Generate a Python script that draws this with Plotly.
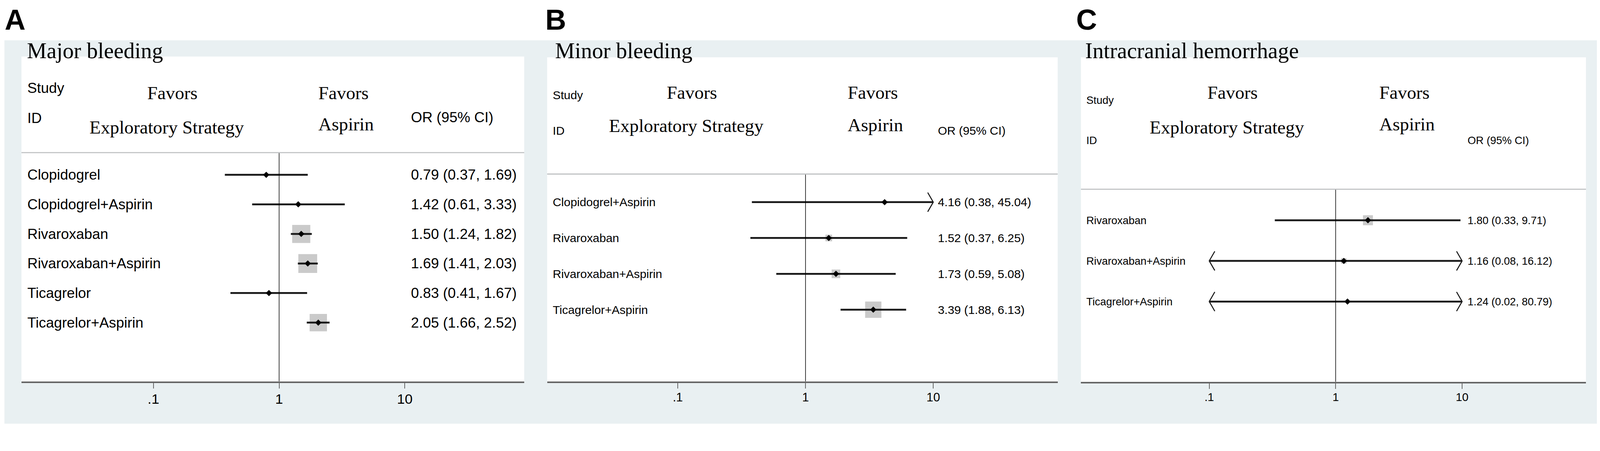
import numpy as np
import plotly.graph_objects as go

# The capture shows a 4096 css px wide viewport stretched to 4328 px, so all
# positions below are given in reference pixels and mapped through S.
REF_W, REF_H = 4328, 1155
S = 4096 / REF_W
BODY = 8                                  # default page margin of the html body
W, H = 4096 - 2 * BODY, round(REF_H * S) - 2 * BODY

# --- data ---
studies_a = ["Clopidogrel", "Clopidogrel+Aspirin", "Rivaroxaban",
             "Rivaroxaban+Aspirin", "Ticagrelor", "Ticagrelor+Aspirin"]
or_a = [0.79, 1.42, 1.50, 1.69, 0.83, 2.05]
lo_a = [0.37, 0.61, 1.24, 1.41, 0.41, 1.66]
hi_a = [1.69, 3.33, 1.82, 2.03, 1.67, 2.52]
wt_a = [0.15, 0.15, 0.96, 1.00, 0.15, 0.92]   # relative box size (study weight)

studies_b = ["Clopidogrel+Aspirin", "Rivaroxaban", "Rivaroxaban+Aspirin", "Ticagrelor+Aspirin"]
or_b = [4.16, 1.52, 1.73, 3.39]
lo_b = [0.38, 0.37, 0.59, 1.88]
hi_b = [45.04, 6.25, 5.08, 6.13]
wt_b = [0.14, 0.41, 0.53, 1.00]

studies_c = ["Rivaroxaban", "Rivaroxaban+Aspirin", "Ticagrelor+Aspirin"]
or_c = [1.80, 1.16, 1.24]
lo_c = [0.33, 0.08, 0.02]
hi_c = [9.71, 16.12, 80.79]
wt_c = [1.00, 0.55, 0.22]

tick_vals = [0.1, 1, 10]
tick_text = [".1", "1", "10"]

SANS = "Liberation Sans, Arial, sans-serif"
SERIF = "Liberation Serif, Times New Roman, serif"
GRAY_BG = "#e9f0f2"
INK = "#1a1a1a"

# --- panel layout (pixel positions in the reference image) ---
panels = [
    dict(letter="A", letter_x=12, title="Major bleeding", title_x=72,
         studies=studies_a, est=or_a, lo=lo_a, hi=hi_a, wt=wt_a,
         white=(58, 153, 1418, 1032), one_px=755, dec_px=340,
         row0=473, step=80, sep=413, box_max=51,
         sans=39, serif=50, tick=38,
         col_id=73, col_or=1111, fav_l=466, expl_l=451, fav_r=860,
         b_study=252, b_id=333, b_or=331, b_fav=269, b_expl=361, b_asp=353),
    dict(letter="B", letter_x=1474, title="Minor bleeding", title_x=1500,
         studies=studies_b, est=or_b, lo=lo_b, hi=hi_b, wt=wt_b,
         white=(1480, 155, 2861, 1032), one_px=2179, dec_px=345.5,
         row0=547, step=97, sep=471, box_max=44,
         sans=32, serif=50, tick=33,
         col_id=1494, col_or=2536, fav_l=1872, expl_l=1857, fav_r=2292,
         b_study=268, b_id=364, b_or=364, b_fav=267, b_expl=357, b_asp=355),
    dict(letter="C", letter_x=2910, title="Intracranial hemorrhage", title_x=2934,
         studies=studies_c, est=or_c, lo=lo_c, hi=hi_c, wt=wt_c,
         white=(2924, 155, 4290, 1033), one_px=3613, dec_px=342,
         row0=596, step=110, sep=512, box_max=27,
         sans=29, serif=50, tick=31,
         col_id=2937, col_or=3969, fav_l=3334, expl_l=3319, fav_r=3730,
         b_study=281, b_id=390, b_or=390, b_fav=267, b_expl=361, b_asp=353),
]


def px(x):
    return (x * S - BODY) / W


def py(y):
    return 1 - (y * S - BODY) / H


annotations = []
shapes = []


def label(x, baseline, text, size, family, xanchor="left"):
    annotations.append(dict(
        x=px(x), y=py(baseline - 0.34 * size), xref="paper", yref="paper",
        text=text, showarrow=False, xanchor=xanchor, yanchor="middle", borderpad=0,
        font=dict(family=family, size=size * S, color="black")))


# grey graph region behind all three panels
shapes.append(dict(type="rect", xref="paper", yref="paper", layer="below",
                   x0=px(12), x1=px(4322), y0=py(1148), y1=py(109),
                   fillcolor=GRAY_BG, line=dict(width=0)))

fig = go.Figure()
layout_axes = {}
clip_lo, clip_hi = tick_vals[0], tick_vals[-1]

for k, p in enumerate(panels):
    n = k + 1
    xa = "x" if n == 1 else f"x{n}"
    ya = "y" if n == 1 else f"y{n}"
    wl, wt_, wr, wb = p["white"]
    dec = p["dec_px"]
    step = p["step"]
    ymin = -(p["row0"] - wt_) / step
    ymax = (wb - p["row0"]) / step
    sep_row = (p["sep"] - p["row0"]) / step

    # white plot region
    shapes.append(dict(type="rect", xref="paper", yref="paper", layer="below",
                       x0=px(wl), x1=px(wr), y0=py(wb), y1=py(wt_),
                       fillcolor="white", line=dict(width=0)))
    # header separator
    shapes.append(dict(type="line", xref="paper", yref="paper",
                       x0=px(wl), x1=px(wr), y0=py(p["sep"]), y1=py(p["sep"]),
                       line=dict(color="#bfc1c3", width=3 * S)))

    rows = np.arange(len(p["studies"]))
    est = np.array(p["est"])
    lo = np.array(p["lo"])
    hi = np.array(p["hi"])

    # weight boxes
    fig.add_trace(go.Scatter(
        x=est, y=rows, mode="markers", xaxis=xa, yaxis=ya,
        marker=dict(symbol="square", size=np.array(p["wt"]) * p["box_max"] * S,
                    color="#b4b4b4", line=dict(width=0)),
        hoverinfo="skip", showlegend=False))

    # confidence interval lines, clipped at the axis label range
    cx, cy = [], []
    ax_, ay_ = [], []
    aw = 15 / dec             # chevron width in decades
    ah = 26 / step            # chevron half-height in rows
    for i in rows:
        a = max(lo[i], clip_lo)
        b = min(hi[i], clip_hi)
        cx += [a, b, None]
        cy += [i, i, None]
        if hi[i] > clip_hi:
            back = clip_hi * 10 ** (-aw)
            ax_ += [back, clip_hi, back, None]
            ay_ += [i - ah, i, i + ah, None]
        if lo[i] < clip_lo:
            back = clip_lo * 10 ** aw
            ax_ += [back, clip_lo, back, None]
            ay_ += [i - ah, i, i + ah, None]
    fig.add_trace(go.Scatter(x=cx, y=cy, mode="lines", xaxis=xa, yaxis=ya,
                             line=dict(color=INK, width=5 * S),
                             hoverinfo="skip", showlegend=False))
    if ax_:
        fig.add_trace(go.Scatter(x=ax_, y=ay_, mode="lines", xaxis=xa, yaxis=ya,
                                 line=dict(color=INK, width=2.8 * S),
                                 hoverinfo="skip", showlegend=False))

    # point estimates
    fig.add_trace(go.Scatter(
        x=est, y=rows, mode="markers", xaxis=xa, yaxis=ya,
        marker=dict(symbol="diamond", size=13 * S, color="black"),
        hoverinfo="skip", showlegend=False))

    # line of no effect
    fig.add_trace(go.Scatter(x=[1, 1], y=[sep_row, ymax], mode="lines",
                             xaxis=xa, yaxis=ya,
                             line=dict(color="black", width=1.6 * S),
                             hoverinfo="skip", showlegend=False))

    layout_axes["xaxis" if n == 1 else f"xaxis{n}"] = dict(
        type="log", domain=[px(wl), px(wr)], anchor=ya,
        range=[-(p["one_px"] - wl) / dec, (wr - p["one_px"]) / dec],
        tickvals=tick_vals, ticktext=tick_text,
        tickfont=dict(family=SANS, size=p["tick"] * S, color="black"),
        ticks="outside", ticklen=15 * S, tickwidth=2.5 * S, tickcolor="#666666",
        ticklabelstandoff=round(-4 * S),
        showline=True, linecolor="#666666", linewidth=4 * S,
        showgrid=False, zeroline=False, fixedrange=True)
    layout_axes["yaxis" if n == 1 else f"yaxis{n}"] = dict(
        domain=[py(wb), py(wt_)], anchor=xa, range=[ymax, ymin],
        visible=False, showgrid=False, zeroline=False, fixedrange=True)

    # panel letter, pinned to the top edge of the figure
    annotations.append(dict(
        x=px(p["letter_x"]), y=1, xref="paper", yref="paper",
        text=f"<b>{p['letter']}</b>", showarrow=False,
        xanchor="left", yanchor="top", borderpad=0,
        font=dict(family=SANS, size=78 * S, color="black")))

    # texts
    label(p["title_x"], 157, p["title"], 60, SERIF)
    label(p["col_id"], p["b_study"], "Study", p["sans"], SANS)
    label(p["col_id"], p["b_id"], "ID", p["sans"], SANS)
    label(p["col_or"], p["b_or"], "OR (95% CI)", p["sans"], SANS)
    label(p["fav_l"], p["b_fav"], "Favors", p["serif"], SERIF, xanchor="center")
    label(p["expl_l"], p["b_expl"], "Exploratory Strategy", p["serif"], SERIF, xanchor="center")
    label(p["fav_r"], p["b_fav"], "Favors", p["serif"], SERIF)
    label(p["fav_r"], p["b_asp"], "Aspirin", p["serif"], SERIF)
    for i, name in enumerate(p["studies"]):
        yc = p["row0"] + i * step
        annotations.append(dict(
            x=px(p["col_id"]), y=py(yc), xref="paper", yref="paper", text=name,
            showarrow=False, xanchor="left", yanchor="middle", borderpad=0,
            font=dict(family=SANS, size=p["sans"] * S, color="black")))
        annotations.append(dict(
            x=px(p["col_or"]), y=py(yc), xref="paper", yref="paper",
            text=f"{est[i]:.2f} ({lo[i]:.2f}, {hi[i]:.2f})",
            showarrow=False, xanchor="left", yanchor="middle", borderpad=0,
            font=dict(family=SANS, size=p["sans"] * S, color="black")))

fig.update_layout(
    width=W, height=H,
    margin=dict(l=0, r=0, t=0, b=0),
    paper_bgcolor="white", plot_bgcolor="white",
    showlegend=False,
    shapes=shapes, annotations=annotations,
    **layout_axes)

fig.write_html("out.html")
